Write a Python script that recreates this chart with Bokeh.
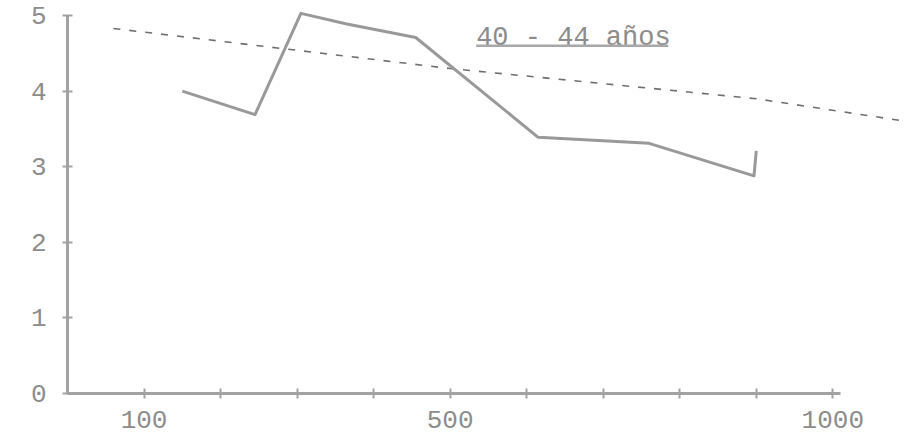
from bokeh.plotting import figure
from bokeh.models import Range1d, FixedTicker
from bokeh.core.properties import value
from bokeh.embed import file_html
from bokeh.resources import INLINE

# observed series (solid line)
obs_x = [150, 245, 305, 365, 455, 615, 760, 897, 900]
obs_y = [4.00, 3.69, 5.03, 4.89, 4.71, 3.39, 3.31, 2.88, 3.21]

# fitted trend (dashed line)
trend_x = [60, 500, 900, 1090]
trend_y = [4.83, 4.30, 3.90, 3.61]

# axes
x_ticks = [100, 200, 300, 400, 500, 600, 700, 800, 900, 1000]
x_tick_labels = {100: "100", 500: "500", 1000: "1000"}
y_ticks = [0, 1, 2, 3, 4, 5]

title_text = "40 - 44 años"

FONT = "Liberation Mono"
INK = "#8c8c8c"
LINE = "#a2a2a2"

p = figure(width=905, height=436,
           x_range=Range1d(0, 1095), y_range=Range1d(0, 5.2),
           output_backend="svg", toolbar_location=None,
           min_border_left=67, min_border_right=0,
           min_border_top=0, min_border_bottom=43)

p.outline_line_color = None
p.grid.grid_line_color = None
p.background_fill_color = "white"

for ax in (p.xaxis, p.yaxis):
    ax.axis_line_color = LINE
    ax.axis_line_width = 3
    ax.major_tick_line_color = LINE
    ax.major_tick_line_width = 2
    ax.major_tick_in = 5
    ax.major_tick_out = 5
    ax.minor_tick_line_color = None
    ax.major_label_text_font = FONT
    ax.major_label_text_font_size = "26px"
    ax.major_label_text_color = INK

p.xaxis.ticker = FixedTicker(ticks=x_ticks)
p.xaxis.major_label_overrides = {t: x_tick_labels.get(t, "") for t in x_ticks}
p.xaxis.bounds = (0, 1010)
p.xaxis.major_label_standoff = 12

p.yaxis.ticker = FixedTicker(ticks=y_ticks)
p.yaxis.bounds = (0, 5)
p.yaxis.major_label_standoff = 16
p.yaxis.major_label_orientation = "horizontal"

# dashed trend line
p.line(trend_x, trend_y, line_color="#6f6f6f", line_width=1.6, line_dash="7 9")

# solid observed line
p.line(obs_x, obs_y, line_color="#999999", line_width=3, line_join="round")

# title with underline
p.text(x=[534], y=[4.70], text=[title_text], text_font=value(FONT),
       text_font_size="27px", text_color=INK, text_baseline="alphabetic",
       text_align="left")
p.line([534, 785], [4.60, 4.60], line_color="#a8a8a8", line_width=2.5)

open("out.html", "w").write(file_html(p, INLINE))
